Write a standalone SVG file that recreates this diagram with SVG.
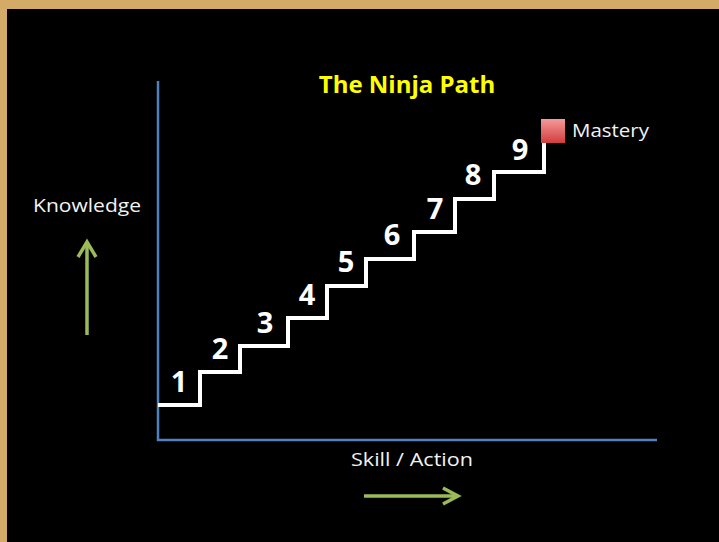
<svg xmlns="http://www.w3.org/2000/svg" width="719" height="542" viewBox="0 0 719 542">
<style>
.lbl{font-family:"Open Sans","Noto Sans","Liberation Sans",sans-serif;fill:#f2f2f2;font-size:19px}
.num{font-family:"Open Sans","Noto Sans","Liberation Sans",sans-serif;fill:#ffffff;font-size:29px;font-weight:bold;text-anchor:middle}
.axis{stroke:#4f81bd;stroke-width:2.5;fill:none}
.arrow{stroke:#9bbb59;stroke-width:3.5;fill:none;stroke-linecap:butt}
</style>
<defs>
<linearGradient id="red" x1="0" y1="0" x2="0" y2="1">
<stop offset="0" stop-color="#f59a9a"/>
<stop offset="1" stop-color="#d23c3c"/>
</linearGradient>
</defs>
<rect x="0" y="0" width="719" height="542" fill="#d3ab66"/>
<rect x="7" y="9" width="712" height="533" fill="#000000"/>
<g id="axes">
<line class="axis" x1="158" y1="81" x2="158" y2="441"/>
<line class="axis" x1="157" y1="440" x2="657" y2="440"/>
</g>
<g id="connectors">
<polyline fill="none" stroke="#ffffff" stroke-width="4" points="158,405 200,405 200,372 240,372 240,346 288,346 288,318 327,318 327,286 366,286 366,259 414,259 414,232 455,232 455,199 494,199 494,172 544,172 544,143"/>
<g id="knowledge-arrow">
<line class="arrow" x1="87" y1="335" x2="87" y2="243"/>
<polyline class="arrow" points="78,257 87,242 96,257"/>
</g>
<g id="skill-arrow">
<line class="arrow" x1="364" y1="496" x2="457" y2="496"/>
<polyline class="arrow" points="443,488 458,496 443,504"/>
</g>
</g>
<g id="title"><text x="407" y="93" text-anchor="middle" font-family="'Open Sans','Noto Sans','Liberation Sans',sans-serif" font-size="24" font-weight="bold" fill="#ffff00">The Ninja Path</text></g>
<g id="knowledge"><text class="lbl" x="33" y="212" textLength="108" lengthAdjust="spacingAndGlyphs">Knowledge</text></g>
<g id="skill"><text class="lbl" x="351" y="466" textLength="122" lengthAdjust="spacingAndGlyphs">Skill / Action</text></g>
<g id="mastery">
<rect x="541" y="119" width="24" height="24" fill="url(#red)"/>
<text class="lbl" x="572" y="137" textLength="77" lengthAdjust="spacingAndGlyphs">Mastery</text>
</g>
<g id="step1"><text class="num" x="179" y="392">1</text></g>
<g id="step2"><text class="num" x="220" y="359">2</text></g>
<g id="step3"><text class="num" x="265" y="333">3</text></g>
<g id="step4"><text class="num" x="307" y="305">4</text></g>
<g id="step5"><text class="num" x="346" y="272">5</text></g>
<g id="step6"><text class="num" x="392" y="245">6</text></g>
<g id="step7"><text class="num" x="435" y="219">7</text></g>
<g id="step8"><text class="num" x="473" y="185">8</text></g>
<g id="step9"><text class="num" x="520" y="160">9</text></g>
</svg>
